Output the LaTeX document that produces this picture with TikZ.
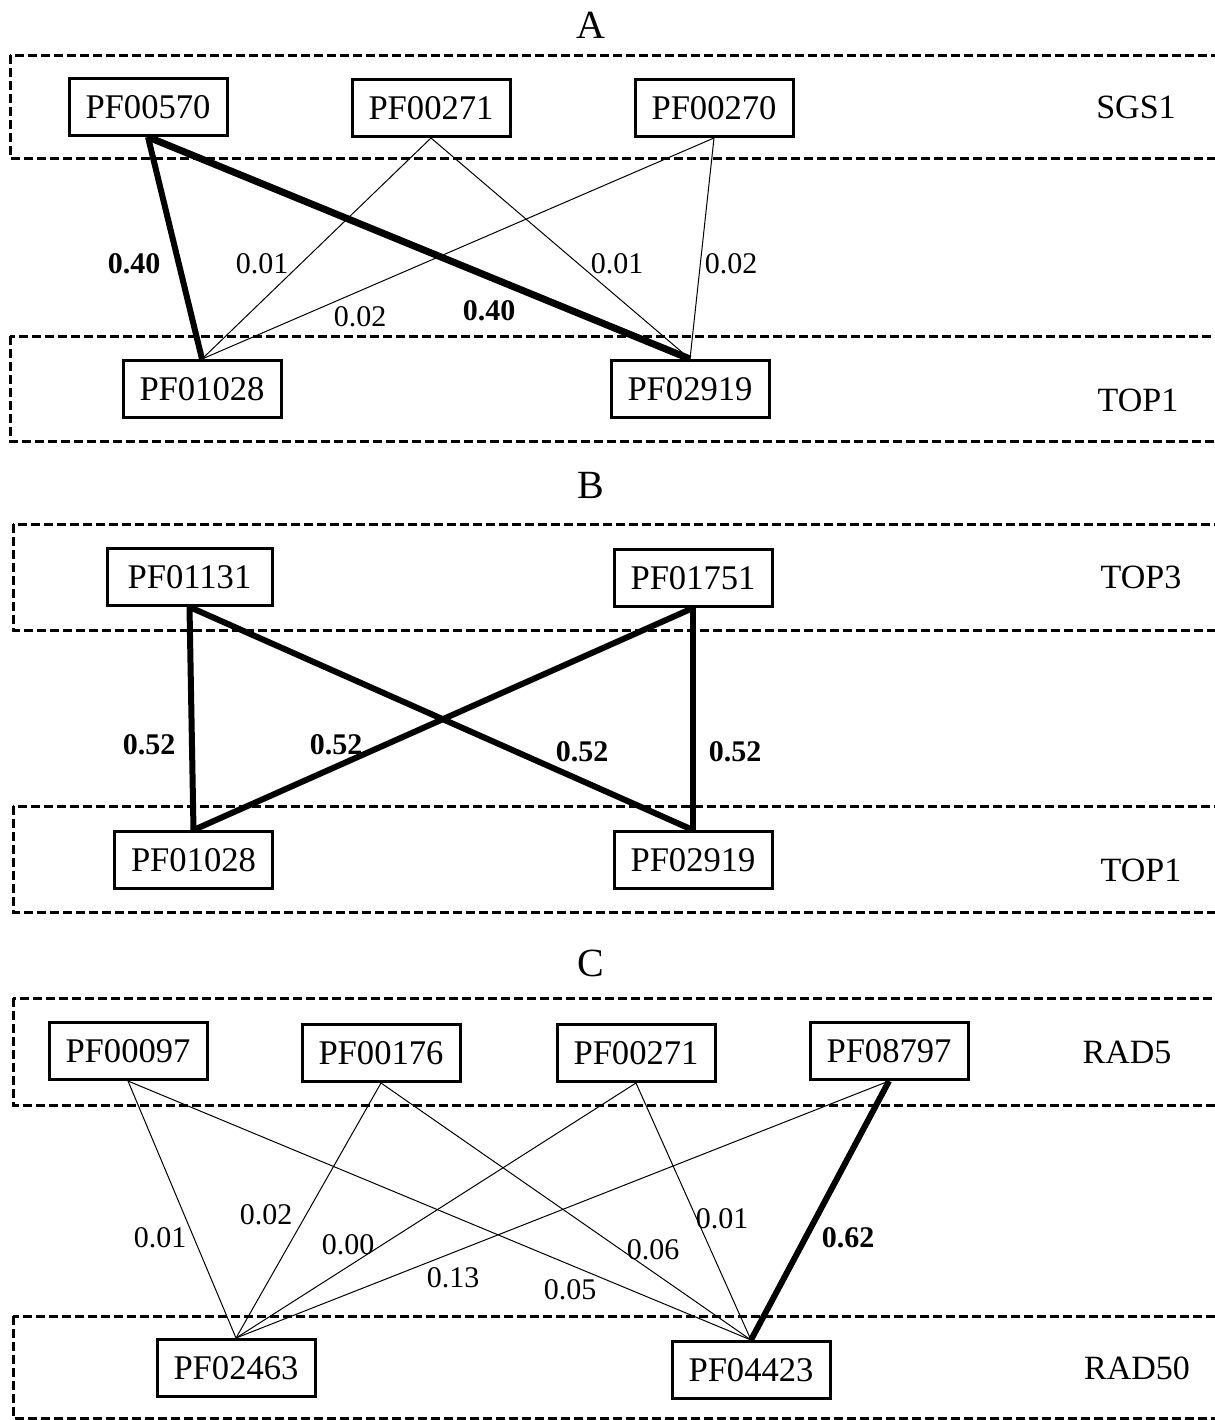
\documentclass[tikz,border=0pt]{standalone}
\usepackage{fontspec}
\setmainfont{Liberation Serif}
\begin{document}
\begin{tikzpicture}[x=0.5pt,y=-0.5pt,
  pf/.style={draw,line width=1.5pt,minimum width=79pt,minimum height=28.5pt,inner sep=0pt,font=\fontsize{17.3}{20}\selectfont},
  layer/.style={draw,dashed,line width=1.5pt,dash pattern=on 4.5pt off 2pt},
  thin/.style={line width=0.5pt},
  thick/.style={line width=3pt},
  thicker/.style={line width=3.5pt},
  wl/.style={inner sep=0pt,font=\fontsize{15}{18}\selectfont},
  wlb/.style={inner sep=0pt,font=\fontsize{15}{18}\selectfont\bfseries},
  ttl/.style={inner sep=0pt,font=\fontsize{20}{24}\selectfont},
  lname/.style={inner sep=0pt,font=\fontsize{17}{20}\selectfont}]
\useasboundingbox (0,0) rectangle (1215,1420);
\begin{scope}
\clip (0,0) rectangle (1215,1420);
% ---------- Panel A ----------
\node[ttl] (tA) at (591,25) {A};
\draw[layer] (10,55) rectangle (1240,158);
\draw[layer] (10,336) rectangle (1240,441);
\node[pf] (a1) at (148,107) {PF00570};
\node[pf] (a2) at (431,108) {PF00271};
\node[pf] (a3) at (714,108) {PF00270};
\node[pf] (a4) at (202,389) {PF01028};
\node[pf] (a5) at (690,389) {PF02919};
\draw[thick] (a1.south) -- (a4.north);
\draw[thicker] (a1.south) -- (a5.north);
\draw[thin] (a2.south) -- (a4.north);
\draw[thin] (a2.south) -- (a5.north);
\draw[thin] (a3.south) -- (a4.north);
\draw[thin] (a3.south) -- (a5.north);
\node[wlb] (la1) at (134,264) {0.40};
\node[wl] (la2) at (262,264) {0.01};
\node[wl] (la3) at (360,317) {0.02};
\node[wlb] (la4) at (489,311) {0.40};
\node[wl] (la5) at (617,264) {0.01};
\node[wl] (la6) at (731,264) {0.02};
\node[lname] (nA1) at (1136,107) {SGS1};
\node[lname] (nA2) at (1138,400) {TOP1};
% ---------- Panel B ----------
\node[ttl] (tB) at (591,485) {B};
\draw[layer] (13,524) rectangle (1240,630);
\draw[layer] (13,806) rectangle (1240,912);
\node[pf,minimum width=82.5pt] (b1) at (189.5,577) {PF01131};
\node[pf] (b2) at (693,578) {PF01751};
\node[pf] (b3) at (193.5,860) {PF01028};
\node[pf] (b4) at (693,860) {PF02919};
\draw[thick] (b1.south) -- (b3.north);
\draw[thick] (b1.south) -- (b4.north);
\draw[thick] (b2.south) -- (b3.north);
\draw[thick] (b2.south) -- (b4.north);
\node[wlb] (lb1) at (149,745) {0.52};
\node[wlb] (lb2) at (336,745) {0.52};
\node[wlb] (lb3) at (582,752) {0.52};
\node[wlb] (lb4) at (735,752) {0.52};
\node[lname] (nB1) at (1141,577) {TOP3};
\node[lname] (nB2) at (1141,870) {TOP1};
% ---------- Panel C ----------
\node[ttl] (tC) at (591,963) {C};
\draw[layer] (13,998) rectangle (1240,1105);
\draw[layer] (13,1316) rectangle (1240,1418);
\node[pf] (c1) at (128,1051) {PF00097};
\node[pf] (c2) at (381,1053) {PF00176};
\node[pf] (c3) at (636,1053) {PF00271};
\node[pf] (c4) at (889,1051) {PF08797};
\node[pf] (c5) at (236,1368) {PF02463};
\node[pf] (c6) at (751,1370) {PF04423};
\draw[thin] (c1.south) -- (c5.north);
\draw[thin] (c1.south) -- (c6.north);
\draw[thin] (c2.south) -- (c5.north);
\draw[thin] (c2.south) -- (c6.north);
\draw[thin] (c3.south) -- (c5.north);
\draw[thin] (c3.south) -- (c6.north);
\draw[thin] (c4.south) -- (c5.north);
\draw[thick] (c4.south) -- (c6.north);
\node[wl] (lc1) at (160,1238) {0.01};
\node[wl] (lc2) at (266,1215) {0.02};
\node[wl] (lc3) at (348,1245) {0.00};
\node[wl] (lc4) at (453,1278) {0.13};
\node[wl] (lc5) at (570,1290) {0.05};
\node[wl] (lc6) at (653,1250) {0.06};
\node[wl] (lc7) at (722,1219) {0.01};
\node[wlb] (lc8) at (848,1238) {0.62};
\node[lname] (nC1) at (1127,1052) {RAD5};
\node[lname] (nC2) at (1137,1368) {RAD50};
\end{scope}
\end{tikzpicture}
\end{document}
